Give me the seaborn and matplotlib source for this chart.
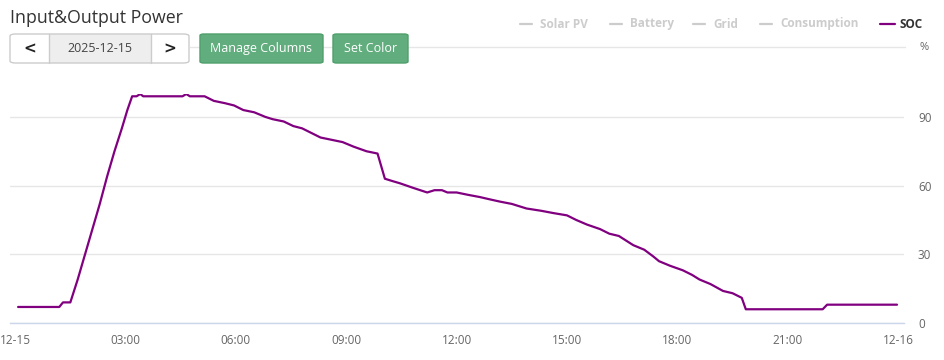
import matplotlib
matplotlib.use("Agg")
import matplotlib.pyplot as plt
from matplotlib.patches import FancyBboxPatch, Rectangle
from matplotlib.lines import Line2D
import seaborn as sns
import pandas as pd

# SOC readings for 2025-12-15 (hours since midnight, percent)
hours = [0.08, 1.2, 1.3, 1.5, 1.7, 1.9, 2.1, 2.3, 2.5, 2.7, 2.9, 3.05, 3.18,
         3.3, 3.4, 3.48, 4.55, 4.65, 4.75, 5.15, 5.4, 5.7, 5.95, 6.2, 6.5,
         6.8, 7.0, 7.3, 7.56, 7.8, 8.05, 8.3, 8.6, 8.9, 9.2, 9.55, 9.85,
         10.05, 10.25, 10.46, 10.82, 11.2, 11.4, 11.6, 11.75, 12.0, 12.3,
         12.63, 12.9, 13.18, 13.5, 13.9, 14.3, 14.63, 15.0, 15.25, 15.54,
         15.9, 16.15, 16.41, 16.8, 17.1, 17.35, 17.5, 17.8, 18.15, 18.4,
         18.6, 18.9, 19.24, 19.5, 19.75, 19.86, 21.95, 22.07, 23.97]
soc = [7, 7, 9, 9, 19, 30, 41, 52, 64, 75, 85, 93, 99,
       99, 100, 99, 99, 100, 99, 99, 97, 96, 95, 93, 92,
       90, 89, 88, 86, 85, 83, 81, 80, 79, 77, 75, 74,
       63, 62, 61, 59, 57, 58, 58, 57, 57, 56,
       55, 54, 53, 52, 50, 49, 48, 47, 45, 43,
       41, 39, 38, 34, 32, 29, 27, 25, 23, 21,
       19, 17, 14, 13, 11, 6, 6, 8, 8]

tick_hours = [0, 3, 6, 9, 12, 15, 18, 21, 24]
tick_labels = ["12-15", "03:00", "06:00", "09:00", "12:00", "15:00", "18:00", "21:00", "12-16"]
y_ticks = [0, 30, 60, 90]
legend_names = ["Solar PV", "Battery", "Grid", "Consumption", "SOC"]

df = pd.DataFrame({"hour": hours, "soc": soc})

sns.set_style("white")
plt.rcParams["font.family"] = ["Open Sans", "DejaVu Sans"]

W, H = 944, 360
fig = plt.figure(figsize=(W / 100, H / 100), dpi=100)


def fx(x):
    return x / W


def fy(y):
    return 1 - y / H


# plot area in pixels: x 10..904, y 94 (100%) .. 323 (0%)
ax = fig.add_axes([fx(10), fy(323), fx(904) - fx(10), fy(94) - fy(323)])
sns.lineplot(data=df, x="hour", y="soc", color="#800080", linewidth=1.6, ax=ax)

ax.set_xlim(-0.14, 24.16)
ax.set_ylim(0, 100)
ax.set_xticks(tick_hours)
ax.set_xticklabels(tick_labels)
ax.set_yticks(y_ticks)
ax.yaxis.tick_right()
ax.set_xlabel("")
ax.set_ylabel("")
ax.grid(axis="y", color="#e6e6e6", linewidth=1)
ax.grid(axis="x", visible=False)
for side in ["top", "left", "right"]:
    ax.spines[side].set_visible(False)
ax.spines["bottom"].set_color("#ccd6eb")
ax.spines["bottom"].set_linewidth(1)
ax.tick_params(axis="x", colors="#666666", length=5, width=1, pad=3, labelsize=8.5)
ax.tick_params(axis="x", color="#ccd6eb")
ax.tick_params(axis="y", colors="#666666", length=0, pad=10, labelsize=8.5)
for lbl in ax.get_yticklabels():
    lbl.set_horizontalalignment("left")

fig.text(fx(924), fy(47), "%", ha="center", va="center", fontsize=8, color="#666666")

# header
fig.text(fx(10), fy(18), "Input&Output Power", ha="left", va="center",
         fontsize=12.8, color="#333333")

fig.add_artist(Line2D([fx(190), fx(905)], [fy(47), fy(47)], color="#e6e6e6",
                      linewidth=1, zorder=0.5))

# date selector
fig.add_artist(Rectangle((fx(49), fy(63)), fx(151) - fx(49), fy(34) - fy(63),
                         facecolor="#eeeeee", edgecolor="none", zorder=1))
fig.add_artist(FancyBboxPatch((fx(10), fy(63)), fx(189) - fx(10), fy(34) - fy(63),
                              boxstyle="round,pad=0,rounding_size=0.006",
                              facecolor="none", edgecolor="#cccccc", linewidth=1, zorder=2))
for xs in [49, 151]:
    fig.add_artist(Line2D([fx(xs), fx(xs)], [fy(34), fy(63)], color="#cccccc",
                          linewidth=1, zorder=2))
fig.text(fx(29.5), fy(48.5), "<", ha="center", va="center", fontsize=11,
         fontweight="bold", color="#222222", family="DejaVu Sans")
fig.text(fx(170), fy(48.5), ">", ha="center", va="center", fontsize=11,
         fontweight="bold", color="#222222", family="DejaVu Sans")
fig.text(fx(100), fy(48.5), "2025-12-15", ha="center", va="center", fontsize=9,
         color="#444444")

# green buttons
for x0, x1, label in [(200, 323, "Manage Columns"), (333, 408, "Set Color")]:
    fig.add_artist(FancyBboxPatch((fx(x0), fy(63)), fx(x1) - fx(x0), fy(34) - fy(63),
                                  boxstyle="round,pad=0,rounding_size=0.004",
                                  facecolor="#62ad7e", edgecolor="#4e9f6b",
                                  linewidth=1, zorder=2))
    fig.text(fx((x0 + x1) / 2), fy(48.5), label, ha="center", va="center",
             fontsize=9, color="white", zorder=3)

# legend
legend_pos = [(520, 540), (610, 630), (693, 713), (760, 780), (880, 900)]
for name, (lx, tx) in zip(legend_names, legend_pos):
    active = name == "SOC"
    col = "#800080" if active else "#cccccc"
    tcol = "#333333" if active else "#cccccc"
    ln = 15 if active else 12
    fig.add_artist(Line2D([fx(lx), fx(lx + ln)], [fy(24), fy(24)], color=col, linewidth=1.6))
    fig.text(fx(tx), fy(24), name, ha="left", va="center", fontsize=8.5,
             fontweight="bold", color=tcol)

fig.savefig("out.png", dpi=100)
